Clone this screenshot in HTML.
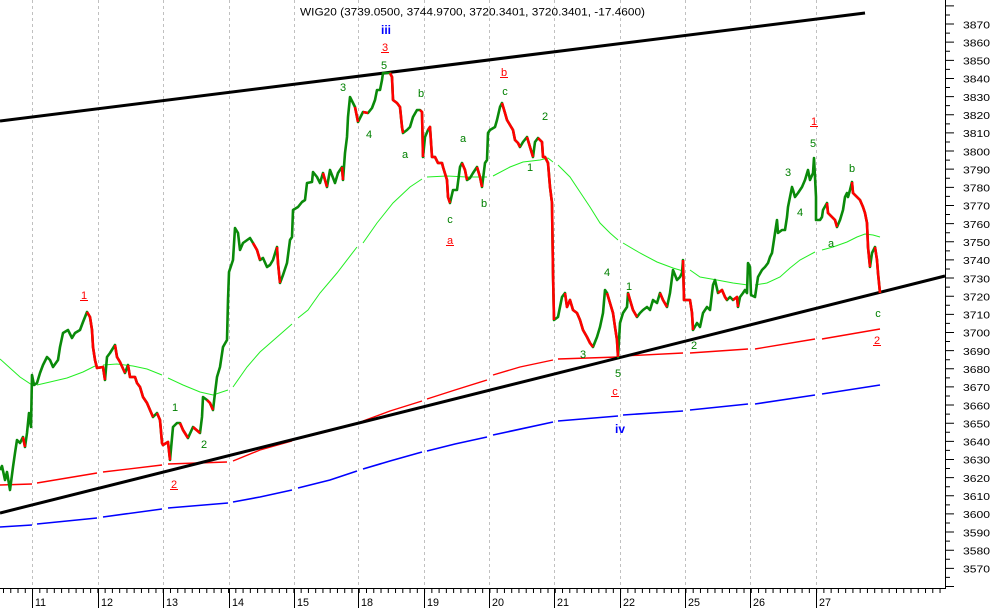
<!DOCTYPE html>
<html><head><meta charset="utf-8"><style>
html,body{margin:0;padding:0;background:#fff;width:994px;height:608px;overflow:hidden}
svg{display:block}
text{font-family:"Liberation Sans",Arial,sans-serif}
</style></head><body>
<svg width="994" height="608" viewBox="0 0 994 608" xmlns="http://www.w3.org/2000/svg">
<rect width="994" height="608" fill="#fff"/>
<!-- grid -->
<g stroke="#c0c0c0" stroke-width="1" stroke-dasharray="3 3">
<line x1="32.5" y1="0" x2="32.5" y2="588"/>
<line x1="98.5" y1="0" x2="98.5" y2="588"/>
<line x1="163.5" y1="0" x2="163.5" y2="588"/>
<line x1="229.5" y1="0" x2="229.5" y2="588"/>
<line x1="294.5" y1="0" x2="294.5" y2="588"/>
<line x1="358.5" y1="0" x2="358.5" y2="588"/>
<line x1="424.5" y1="0" x2="424.5" y2="588"/>
<line x1="489.5" y1="0" x2="489.5" y2="588"/>
<line x1="554.5" y1="0" x2="554.5" y2="588"/>
<line x1="620.5" y1="0" x2="620.5" y2="588"/>
<line x1="685.5" y1="0" x2="685.5" y2="588"/>
<line x1="750.5" y1="0" x2="750.5" y2="588"/>
<line x1="816.5" y1="0" x2="816.5" y2="588"/>
</g>

<!-- moving averages -->
<g fill="none" stroke="#22ee22" stroke-width="1">
<polyline points="0,359 10,368 20,377 32,385"/>
<polyline points="37,385 50,382 67,378 83,372 95,366"/>
<polyline points="103,365 117,364 133,366 147,369 162,375"/>
<polyline points="168,378 183,385 200,392 213,395 228,390"/>
<polyline points="233,387 247,367 260,352 276,338 292,324"/>
<polyline points="298,318 308,310 320,293 337,273 357,247"/>
<polyline points="363,243 377,223 393,203 410,187 422,179"/>
<polyline points="427,177 447,176 467,177 487,177"/>
<polyline points="493,176 510,167 523,162 540,160 548,158 553,162"/>
<polyline points="558,165 570,177 580,192 590,207 600,223 610,233 618,240"/>
<polyline points="623,243 640,253 657,262 673,268 683,271"/>
<polyline points="690,270 700,277 717,280 733,283 748,285"/>
<polyline points="755,285 767,283 780,277 790,268 800,260 815,252"/>
<polyline points="822,250 833,247 847,242 857,237 865,234 873,235 880,237"/>
</g>
<g fill="none" stroke="#ff0000" stroke-width="1.4">
<polyline points="0,485 32,484"/>
<polyline points="37,483 97,473"/>
<polyline points="103,472 162,465"/>
<polyline points="168,464 227,462"/>
<polyline points="233,461 260,450 292,441"/>
<polyline points="298,439 330,431 357,423"/>
<polyline points="363,421 390,411 422,401"/>
<polyline points="427,399 455,390 487,380"/>
<polyline points="493,375 520,367 553,360"/>
<polyline points="558,359 618,357"/>
<polyline points="623,356 683,353"/>
<polyline points="690,353 748,349"/>
<polyline points="755,349 815,339"/>
<polyline points="822,339 880,329"/>
</g>
<g fill="none" stroke="#0000ff" stroke-width="1.6">
<polyline points="0,527 32,525"/>
<polyline points="37,524 97,518"/>
<polyline points="103,517 162,509"/>
<polyline points="168,508 228,503"/>
<polyline points="233,502 260,497 292,490"/>
<polyline points="298,488 330,480 357,471"/>
<polyline points="363,469 390,461 422,452"/>
<polyline points="427,451 455,444 487,437"/>
<polyline points="493,435 553,422"/>
<polyline points="558,421 618,416"/>
<polyline points="623,415 683,411"/>
<polyline points="690,410 748,404"/>
<polyline points="755,404 815,395"/>
<polyline points="822,394 880,385"/>
</g>

<!-- trend lines -->
<g stroke="#000" stroke-width="3" fill="none">
<line x1="0" y1="121" x2="865" y2="13"/>
<line x1="0" y1="513" x2="945" y2="276"/>
</g>

<!-- price -->
<g fill="none" stroke-width="2.6" stroke-linejoin="round" stroke-linecap="butt">
<polyline stroke="#0a8a0a" points="0,470 2,466 5,480 7,472 10,490 13,467 15,453 17,440 20,443 23,437 25,447 27,433 29,413 31,427 32,375 34,385 37,383 40,373 43,365 47,357 50,360 53,367 58,360 60,347 63,333 68,330 72,338 75,333 80,330 83,322 87,312 90,317 92,330 93,347 95,360 97,368 103,367 105,380 107,357 110,353 115,345 117,357 120,362 125,373 128,365 130,377 135,377 137,383 140,387 143,397 147,403 150,410 153,417 157,413 160,420 162,443 163,445 168,442 170,460 173,427 177,423 180,423 183,430 188,438 193,427 200,433 202,417 203,397 207,400 210,403 213,410 215,393 217,377 220,367 223,347 227,340 228,300 229,272 233,260 235,228 238,233 240,250 243,243 250,238 253,243 257,250 260,260 263,258 267,267 270,265 273,260 277,247 278,263 280,283 283,275 287,263 290,240 292,237 293,210 298,207 302,202 305,200 307,183 312,182 313,172 317,177 320,183 323,173 327,187 330,170 335,183 338,173 342,167 343,180 345,153 347,137 348,117 350,97 353,103 355,107 357,117 358,122 363,112 368,113 372,108 375,100 377,90 380,90 382,80 383,73 387,73 390,73 392,77 393,100 397,103 400,107 402,127 403,133 407,130 410,127 413,117 417,110 420,110 422,112 423,157 425,137 428,130 430,127 432,157 435,157 438,163 442,163 443,167 447,180 448,197 450,203 453,190 457,190 460,167 462,163 465,170 467,180 470,178 473,173 477,167 480,177 482,187 485,163 487,160 488,133 490,130 495,127 497,120 500,107 502,103 505,113 507,120 510,125 513,130 515,140 518,143 520,147 523,142 527,137 530,147 533,157 535,142 538,138 542,142 543,157 545,157 548,163 550,187 552,203 553,273 554,320 558,317 562,297 565,293 567,307 570,300 573,310 577,313 580,320 583,330 587,337 590,343 593,347 597,337 600,327 603,313 605,290 607,293 610,303 613,313 615,327 617,340 618,357 620,323 623,313 627,307 628,293 630,300 633,310 637,317 640,313 643,310 647,307 650,310 653,300 657,303 660,293 663,300 667,307 670,293 673,270 677,280 680,277 682,273 683,260 684,300 690,300 692,313 693,330 697,323 700,327 703,313 707,307 710,310 712,293 713,285 715,280 718,293 722,290 725,297 727,300 730,297 733,300 737,297 738,307 740,297 743,293 745,290 747,293 748,263 750,267 751,295 755,297 758,277 762,270 765,267 768,263 770,257 772,253 775,233 777,220 778,233 782,230 785,230 787,217 788,207 790,197 792,187 793,190 795,197 798,193 802,187 805,180 808,170 810,180 813,173 814,158 815,177 816,197 816,220 820,220 822,217 823,210 827,203 828,213 832,217 835,220 837,227 840,220 843,210 845,197 847,193 848,197 850,190 852,182 853,193 857,197 860,200 863,207 865,213 867,223 868,247 870,267 872,253 875,247 877,260 878,273 880,293"/>
<g stroke="#ff0000">
<polyline points="23,437 25,447"/>
<polyline points="87,312 90,317 92,330 93,347 95,360 97,368 103,367 105,380"/>
<polyline points="115,345 117,357 120,362 125,373"/>
<polyline points="128,365 130,377 135,377 137,383 140,387 143,397 147,403 150,410 153,417"/>
<polyline points="157,413 160,420 162,443 163,445 168,442 170,460"/>
<polyline points="180,423 183,430 188,438"/>
<polyline points="193,427 200,433"/>
<polyline points="207,400 210,403 213,410"/>
<polyline points="253,243 257,250 260,260"/>
<polyline points="277,247 278,263 280,283"/>
<polyline points="323,173 327,187"/>
<polyline points="342,167 343,180"/>
<polyline points="355,107 357,117 358,122"/>
<polyline points="363,112 368,113"/>
<polyline points="390,73 392,77 393,100 397,103 400,107 402,127 403,133"/>
<polyline points="420,110 422,112 423,157"/>
<polyline points="428,130 430,127 432,157 435,157 438,163 442,163 443,167 447,180 448,197 450,203"/>
<polyline points="462,163 465,170 467,180"/>
<polyline points="477,167 480,177 482,187"/>
<polyline points="502,103 505,113 507,120 510,125 513,130 515,140 518,143 520,147"/>
<polyline points="527,137 530,147 533,157"/>
<polyline points="538,138 542,142 543,157 545,157 548,163 550,187 552,203 553,273 554,320"/>
<polyline points="565,293 567,307 570,300 573,310 577,313 580,320 583,330 587,337 590,343 593,347"/>
<polyline points="607,293 610,303 613,313 615,327 617,340 618,357"/>
<polyline points="628,293 630,300 633,310 637,317"/>
<polyline points="660,293 663,300 667,307"/>
<polyline points="683,260 684,300 690,300 692,313 693,330"/>
<polyline points="718,293 722,290 725,297 727,300"/>
<polyline points="733,300 737,297 738,307"/>
<polyline points="827,203 828,213 832,217 835,220 837,227"/>
<polyline points="852,182 853,193 857,197 860,200 863,207 865,213 867,223 868,247 870,267"/>
<polyline points="875,247 877,260 878,273 880,293"/>
</g>
</g>

<!-- axes -->
<g stroke="#000" stroke-width="1" shape-rendering="crispEdges">
<line x1="0" y1="588.5" x2="946" y2="588.5"/>
<line x1="945.5" y1="0" x2="945.5" y2="589"/>
<line x1="32.5" y1="588" x2="32.5" y2="608"/>
<line x1="98.5" y1="588" x2="98.5" y2="608"/>
<line x1="163.5" y1="588" x2="163.5" y2="608"/>
<line x1="229.5" y1="588" x2="229.5" y2="608"/>
<line x1="294.5" y1="588" x2="294.5" y2="608"/>
<line x1="358.5" y1="588" x2="358.5" y2="608"/>
<line x1="424.5" y1="588" x2="424.5" y2="608"/>
<line x1="489.5" y1="588" x2="489.5" y2="608"/>
<line x1="554.5" y1="588" x2="554.5" y2="608"/>
<line x1="620.5" y1="588" x2="620.5" y2="608"/>
<line x1="685.5" y1="588" x2="685.5" y2="608"/>
<line x1="750.5" y1="588" x2="750.5" y2="608"/>
<line x1="816.5" y1="588" x2="816.5" y2="608"/>
</g>
<line x1="3" y1="590.5" x2="945" y2="590.5" stroke="#000" stroke-width="5" stroke-dasharray="1 6.26"/>
<line x1="948" y1="5.4" x2="948" y2="589" stroke="#000" stroke-width="4" stroke-dasharray="1 8.0715"/>
<line x1="952" y1="5.4" x2="952" y2="589" stroke="#000" stroke-width="4" stroke-dasharray="1 17.143"/>

<!-- title -->
<text x="300" y="15.5" font-size="11" fill="#000" textLength="345" lengthAdjust="spacingAndGlyphs">WIG20 (3739.0500, 3744.9700, 3720.3401, 3720.3401, -17.4600)</text>

<!-- right axis labels -->
<g font-size="10" fill="#000">
<text x="963" y="28.3" textLength="27" lengthAdjust="spacingAndGlyphs">3870</text>
<text x="963" y="46.4" textLength="27" lengthAdjust="spacingAndGlyphs">3860</text>
<text x="963" y="64.6" textLength="27" lengthAdjust="spacingAndGlyphs">3850</text>
<text x="963" y="82.7" textLength="27" lengthAdjust="spacingAndGlyphs">3840</text>
<text x="963" y="100.9" textLength="27" lengthAdjust="spacingAndGlyphs">3830</text>
<text x="963" y="119.0" textLength="27" lengthAdjust="spacingAndGlyphs">3820</text>
<text x="963" y="137.2" textLength="27" lengthAdjust="spacingAndGlyphs">3810</text>
<text x="963" y="155.3" textLength="27" lengthAdjust="spacingAndGlyphs">3800</text>
<text x="963" y="173.4" textLength="27" lengthAdjust="spacingAndGlyphs">3790</text>
<text x="963" y="191.6" textLength="27" lengthAdjust="spacingAndGlyphs">3780</text>
<text x="963" y="209.7" textLength="27" lengthAdjust="spacingAndGlyphs">3770</text>
<text x="963" y="227.9" textLength="27" lengthAdjust="spacingAndGlyphs">3760</text>
<text x="963" y="246.0" textLength="27" lengthAdjust="spacingAndGlyphs">3750</text>
<text x="963" y="264.2" textLength="27" lengthAdjust="spacingAndGlyphs">3740</text>
<text x="963" y="282.3" textLength="27" lengthAdjust="spacingAndGlyphs">3730</text>
<text x="963" y="300.4" textLength="27" lengthAdjust="spacingAndGlyphs">3720</text>
<text x="963" y="318.6" textLength="27" lengthAdjust="spacingAndGlyphs">3710</text>
<text x="963" y="336.7" textLength="27" lengthAdjust="spacingAndGlyphs">3700</text>
<text x="963" y="354.9" textLength="27" lengthAdjust="spacingAndGlyphs">3690</text>
<text x="963" y="373.0" textLength="27" lengthAdjust="spacingAndGlyphs">3680</text>
<text x="963" y="391.2" textLength="27" lengthAdjust="spacingAndGlyphs">3670</text>
<text x="963" y="409.3" textLength="27" lengthAdjust="spacingAndGlyphs">3660</text>
<text x="963" y="427.4" textLength="27" lengthAdjust="spacingAndGlyphs">3650</text>
<text x="963" y="445.6" textLength="27" lengthAdjust="spacingAndGlyphs">3640</text>
<text x="963" y="463.7" textLength="27" lengthAdjust="spacingAndGlyphs">3630</text>
<text x="963" y="481.9" textLength="27" lengthAdjust="spacingAndGlyphs">3620</text>
<text x="963" y="500.0" textLength="27" lengthAdjust="spacingAndGlyphs">3610</text>
<text x="963" y="518.2" textLength="27" lengthAdjust="spacingAndGlyphs">3600</text>
<text x="963" y="536.3" textLength="27" lengthAdjust="spacingAndGlyphs">3590</text>
<text x="963" y="554.4" textLength="27" lengthAdjust="spacingAndGlyphs">3580</text>
<text x="963" y="572.6" textLength="27" lengthAdjust="spacingAndGlyphs">3570</text>
</g>

<!-- bottom labels -->
<g font-size="11" fill="#000">
<text x="35" y="606" textLength="11" lengthAdjust="spacingAndGlyphs">11</text>
<text x="101" y="606" textLength="12" lengthAdjust="spacingAndGlyphs">12</text>
<text x="166" y="606" textLength="12" lengthAdjust="spacingAndGlyphs">13</text>
<text x="232" y="606" textLength="12" lengthAdjust="spacingAndGlyphs">14</text>
<text x="297" y="606" textLength="12" lengthAdjust="spacingAndGlyphs">15</text>
<text x="361" y="606" textLength="12" lengthAdjust="spacingAndGlyphs">18</text>
<text x="427" y="606" textLength="12" lengthAdjust="spacingAndGlyphs">19</text>
<text x="492" y="606" textLength="12" lengthAdjust="spacingAndGlyphs">20</text>
<text x="557" y="606" textLength="12" lengthAdjust="spacingAndGlyphs">21</text>
<text x="623" y="606" textLength="12" lengthAdjust="spacingAndGlyphs">22</text>
<text x="688" y="606" textLength="12" lengthAdjust="spacingAndGlyphs">25</text>
<text x="753" y="606" textLength="12" lengthAdjust="spacingAndGlyphs">26</text>
<text x="819" y="606" textLength="12" lengthAdjust="spacingAndGlyphs">27</text>
</g>

<!-- wave labels green -->
<g font-size="11" fill="#008000" text-anchor="middle">
<text x="175" y="411">1</text>
<text x="204" y="448">2</text>
<text x="384" y="69">5</text>
<text x="343" y="91">3</text>
<text x="369" y="138">4</text>
<text x="421" y="97">b</text>
<text x="405" y="158">a</text>
<text x="463" y="142">a</text>
<text x="450" y="223">c</text>
<text x="484" y="207">b</text>
<text x="505" y="95">c</text>
<text x="545" y="120">2</text>
<text x="530" y="171">1</text>
<text x="607" y="276">4</text>
<text x="629" y="290">1</text>
<text x="583" y="358">3</text>
<text x="618" y="377">5</text>
<text x="694" y="349">2</text>
<text x="788" y="176">3</text>
<text x="800" y="216">4</text>
<text x="813" y="147">5</text>
<text x="852" y="172">b</text>
<text x="831" y="247">a</text>
<text x="878" y="317">c</text>
</g>
<!-- wave labels red underlined -->
<g font-size="11" fill="#ff0000" text-anchor="middle">
<text x="84" y="299">1</text>
<text x="174" y="488">2</text>
<text x="385" y="51">3</text>
<text x="450" y="244">a</text>
<text x="504" y="76">b</text>
<text x="615" y="395">c</text>
<text x="814" y="125">1</text>
<text x="877" y="344">2</text>
</g>
<g stroke="#ff0000" stroke-width="1" shape-rendering="crispEdges">
<line x1="80" y1="300.5" x2="88" y2="300.5"/>
<line x1="170" y1="489.5" x2="178" y2="489.5"/>
<line x1="381" y1="52.5" x2="389" y2="52.5"/>
<line x1="446" y1="245.5" x2="454" y2="245.5"/>
<line x1="500" y1="77.5" x2="508" y2="77.5"/>
<line x1="611" y1="396.5" x2="619" y2="396.5"/>
<line x1="810" y1="126.5" x2="818" y2="126.5"/>
<line x1="873" y1="345.5" x2="881" y2="345.5"/>
</g>
<!-- blue labels -->
<g font-size="12" font-weight="bold" fill="#0000ff" text-anchor="middle">
<text x="386" y="34">iii</text>
<text x="620" y="433">iv</text>
</g>
</svg>
</body></html>
